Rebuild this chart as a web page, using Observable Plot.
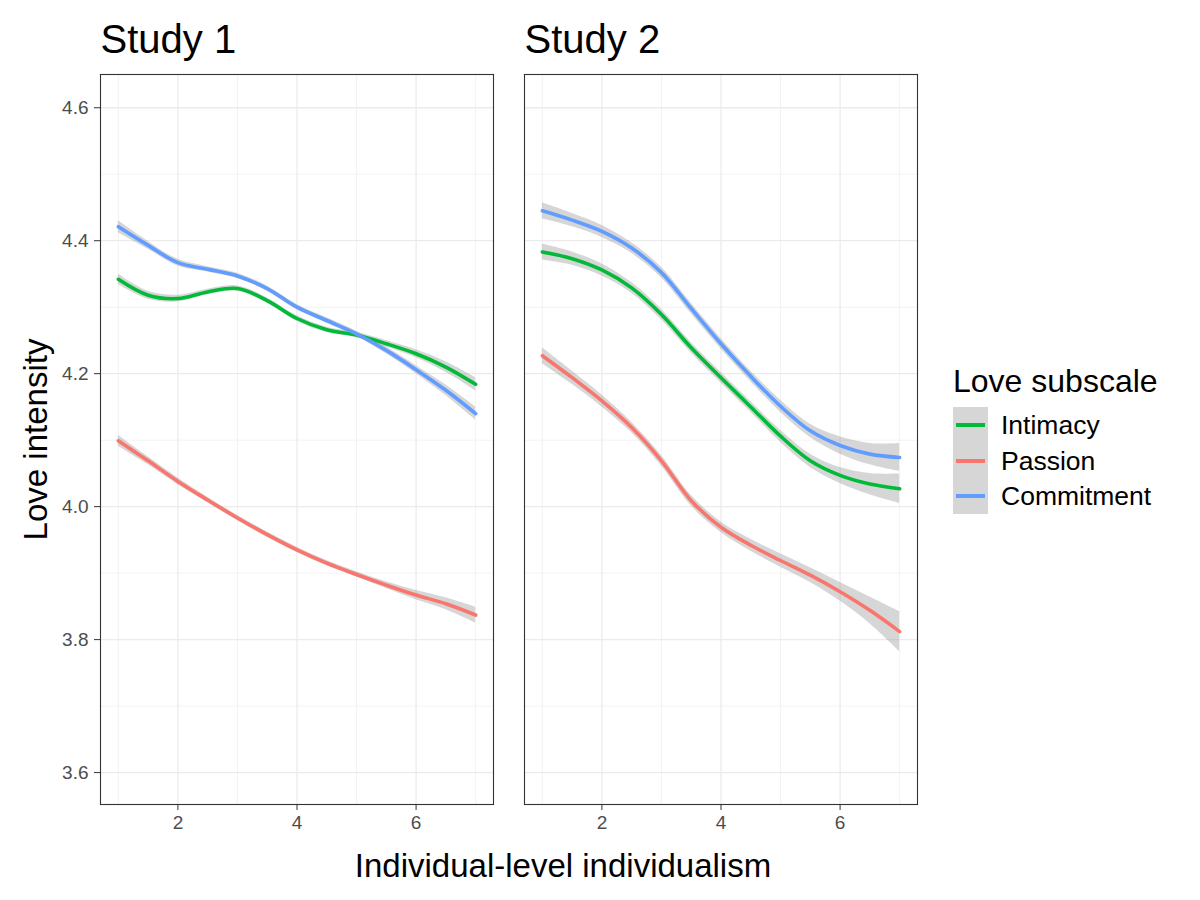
<!DOCTYPE html>
<html>
<head>
<meta charset="utf-8">
<script src="https://cdn.jsdelivr.net/npm/d3@7"></script>
<script src="https://cdn.jsdelivr.net/npm/@observablehq/plot@0.6"></script>
<style>
  html, body { margin: 0; padding: 0; background: #fff; }
  #wrap { position: relative; width: 1200px; height: 900px; font-family: "Liberation Sans", Arial, Helvetica, sans-serif; }
  #wrap svg { position: absolute; left: 0; top: 0; }
  .ov { position: absolute; color: #000; white-space: nowrap; line-height: 1; }
  .key { position: absolute; left: 953px; width: 35px; height: 36px; background: #D6D6D6; }
  .key span { position: absolute; left: 3px; right: 3px; top: 16px; height: 4px; }
  .lab { position: absolute; left: 1001px; font-size: 26.5px; line-height: 36px; height: 36px; color: #000; }
</style>
</head>
<body>
<div id="wrap"></div>
<script>
// ---- data ----
const studies = ["Study 1", "Study 2"];
const subscales = ["Intimacy", "Passion", "Commitment"];
const subscaleColors = ["#00BA38", "#F8766D", "#619CFF"];
const xs = [1, 1.5, 2, 2.5, 3, 3.5, 4, 4.5, 5, 5.5, 6, 6.5, 7];

// Study 1 fitted values
const s1Intimacy   = [4.342, 4.318, 4.313, 4.323, 4.328, 4.310, 4.283, 4.266, 4.258, 4.245, 4.230, 4.210, 4.184];
const s1Passion    = [4.099, 4.069, 4.038, 4.010, 3.983, 3.958, 3.935, 3.915, 3.898, 3.882, 3.867, 3.854, 3.837];
const s1Commitment = [4.421, 4.393, 4.367, 4.357, 4.347, 4.328, 4.300, 4.280, 4.260, 4.235, 4.206, 4.175, 4.140];
// Study 2 fitted values
const s2Intimacy   = [4.383, 4.373, 4.356, 4.329, 4.289, 4.239, 4.194, 4.150, 4.106, 4.069, 4.047, 4.034, 4.027];
const s2Passion    = [4.227, 4.194, 4.159, 4.119, 4.069, 4.009, 3.969, 3.942, 3.919, 3.897, 3.872, 3.844, 3.812];
const s2Commitment = [4.445, 4.431, 4.414, 4.389, 4.352, 4.298, 4.245, 4.196, 4.151, 4.114, 4.092, 4.079, 4.074];

// half-widths of the confidence bands
const s1IntimacySe   = [0.008, 0.006, 0.005, 0.004, 0.004, 0.004, 0.004, 0.004, 0.004, 0.005, 0.006, 0.008, 0.010];
const s1PassionSe    = [0.008, 0.006, 0.005, 0.004, 0.004, 0.004, 0.004, 0.004, 0.004, 0.005, 0.007, 0.009, 0.012];
const s1CommitmentSe = [0.009, 0.006, 0.005, 0.004, 0.004, 0.004, 0.004, 0.004, 0.004, 0.005, 0.006, 0.008, 0.010];
const s2IntimacySe   = [0.012, 0.010, 0.009, 0.008, 0.008, 0.008, 0.008, 0.008, 0.009, 0.010, 0.012, 0.016, 0.022];
const s2PassionSe    = [0.012, 0.010, 0.009, 0.008, 0.008, 0.008, 0.008, 0.009, 0.010, 0.011, 0.014, 0.020, 0.030];
const s2CommitmentSe = [0.012, 0.010, 0.009, 0.008, 0.008, 0.008, 0.008, 0.008, 0.009, 0.010, 0.013, 0.016, 0.021];

const xMajorTicks = [2, 4, 6];
const xMinorTicks = [1, 3, 5, 7];
const yMajorTicks = [3.6, 3.8, 4.0, 4.2, 4.4, 4.6];
const yMinorTicks = [3.7, 3.9, 4.1, 4.3, 4.5];

const xTitle = "Individual-level individualism";
const yTitle = "Love intensity";
const legendTitle = "Love subscale";

// ---- build table ----
const series = [
  ["Study 1", "Intimacy", s1Intimacy, s1IntimacySe],
  ["Study 1", "Passion", s1Passion, s1PassionSe],
  ["Study 1", "Commitment", s1Commitment, s1CommitmentSe],
  ["Study 2", "Intimacy", s2Intimacy, s2IntimacySe],
  ["Study 2", "Passion", s2Passion, s2PassionSe],
  ["Study 2", "Commitment", s2Commitment, s2CommitmentSe]
];
const rows = [];
for (const [study, sub, vals, se] of series) {
  xs.forEach((x, i) => rows.push({study, subscale: sub, x, y: vals[i], lo: vals[i] - se[i], hi: vals[i] + se[i]}));
}

const gridColor = "#EBEBEB";
const chart = Plot.plot({
  width: 1200,
  height: 900,
  marginLeft: 99,
  marginRight: 282,
  marginTop: 74,
  marginBottom: 96,
  style: {fontFamily: '"Liberation Sans", Arial, Helvetica, sans-serif', background: "white"},
  fx: {domain: studies, paddingInner: 0.0729, paddingOuter: 0, axis: null, label: null},
  x: {domain: [0.7, 7.3], label: null},
  y: {domain: [3.552, 4.650], label: null},
  color: {domain: subscales, range: subscaleColors},
  marks: [
    Plot.gridX(xMinorTicks, {stroke: gridColor, strokeOpacity: 1, strokeWidth: 0.6}),
    Plot.gridX(xMajorTicks, {stroke: gridColor, strokeOpacity: 1, strokeWidth: 1.3}),
    Plot.gridY(yMinorTicks, {stroke: gridColor, strokeOpacity: 1, strokeWidth: 0.6}),
    Plot.gridY(yMajorTicks, {stroke: gridColor, strokeOpacity: 1, strokeWidth: 1.3}),
    Plot.areaY(rows, {x: "x", y1: "lo", y2: "hi", z: "subscale", fx: "study", fill: "#999999", fillOpacity: 0.4, curve: "catmull-rom"}),
    Plot.line(rows, {x: "x", y: "y", z: "subscale", stroke: "subscale", fx: "study", strokeWidth: 3.6, curve: "catmull-rom"}),
    Plot.frame({stroke: "#333333", strokeWidth: 1.1}),
    Plot.axisY(yMajorTicks, {anchor: "left", tickSize: 6, tickPadding: 6, fontSize: 19, stroke: "#333333", fill: "#4D4D4D", tickFormat: d3.format(".1f"), label: null}),
    Plot.axisX(xMajorTicks, {anchor: "bottom", tickSize: 6, tickPadding: 5, fontSize: 19, stroke: "#333333", fill: "#4D4D4D", label: null}),
    Plot.text(studies, {fx: d => d, text: d => d, frameAnchor: "top-left", textAnchor: "start", lineAnchor: "bottom", dy: -22, dx: 0, fontSize: 40, fill: "black"})
  ]
});

const wrap = document.getElementById("wrap");
wrap.appendChild(chart);

function ov(text, css) {
  const d = document.createElement("div");
  d.className = "ov";
  d.textContent = text;
  Object.assign(d.style, css);
  wrap.appendChild(d);
  return d;
}
// axis titles
ov(xTitle, {left: "263px", width: "600px", textAlign: "center", top: "849px", fontSize: "33px"});
ov(yTitle, {left: "-265px", width: "600px", textAlign: "center", top: "423px", fontSize: "33px", transform: "rotate(-90deg)"});
// legend
ov(legendTitle, {left: "953px", top: "365px", fontSize: "32px"});
subscales.forEach((s, i) => {
  const k = document.createElement("div");
  k.className = "key";
  k.style.top = (407 + i * 35.7) + "px";
  const ln = document.createElement("span");
  ln.style.background = subscaleColors[i];
  k.appendChild(ln);
  wrap.appendChild(k);
  const l = document.createElement("div");
  l.className = "lab";
  l.style.top = (407 + i * 35.7) + "px";
  l.textContent = s;
  wrap.appendChild(l);
});
</script>
</body>
</html>
